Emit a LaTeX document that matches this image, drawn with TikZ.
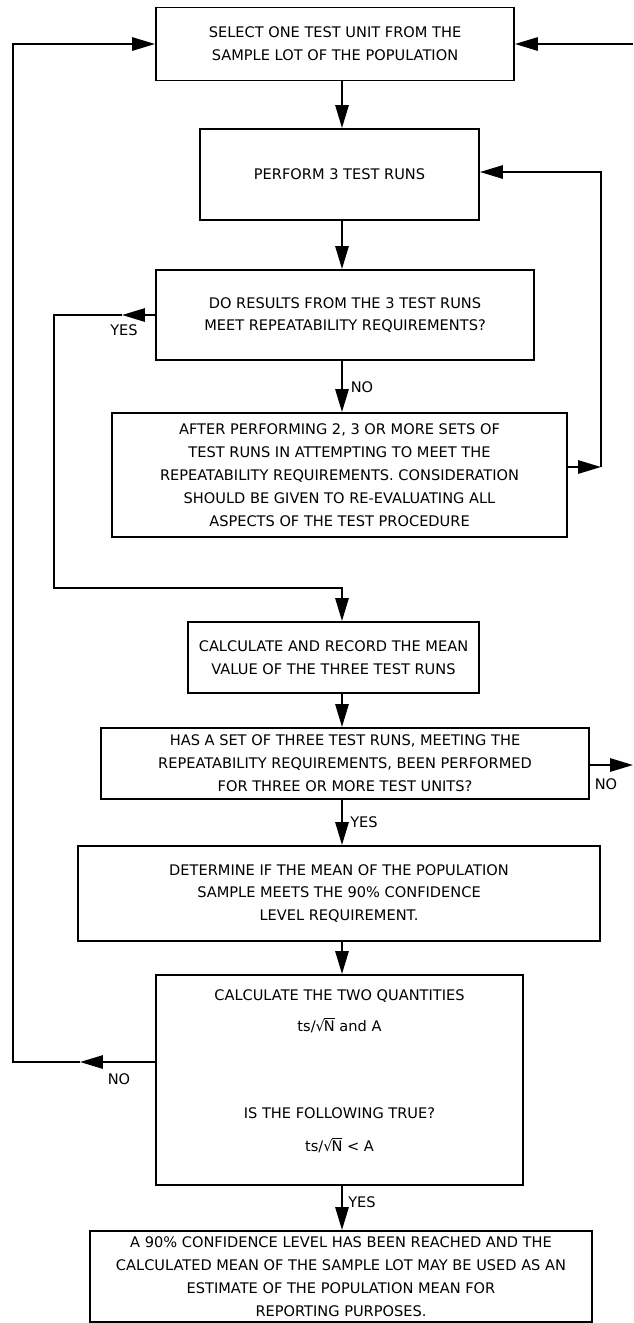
\documentclass[tikz,border=0pt]{standalone}
\usepackage{fontspec}
\setmainfont{DejaVu Sans}
\usetikzlibrary{arrows.meta}
\tikzset{
  box/.style={draw, line width=1.1pt, rectangle, inner sep=0pt, align=center,
    font=\fontsize{8.3}{13}\selectfont},
  lbl/.style={inner sep=0pt, align=center, font=\fontsize{8.3}{13}\selectfont},
  arr/.style={line width=1.2pt, -{Triangle[length=13pt,width=7.5pt]}},
}
\newcommand{\rootN}{ts/√\kern-0.6pt$\overline{\mbox{N}}$}

\begin{document}
\begin{tikzpicture}[x=0.02cm, y=-0.02cm]
  % Page frame
  \useasboundingbox (0,0) rectangle (633,1323);

  % Column of the main arrows
  \coordinate (spine) at (342,0);

  % Boxes, top to bottom
  \node[box, minimum width=7.16cm, minimum height=1.46cm] (select) at (335,44)
    {SELECT ONE TEST UNIT FROM THE\\SAMPLE LOT OF THE POPULATION};
  \node[box, minimum width=5.58cm, minimum height=1.82cm] (perform) at (339.5,174.5)
    {PERFORM 3 TEST RUNS};
  \node[box, minimum width=7.56cm, minimum height=1.80cm] (repeat) at (345,315)
    {DO RESULTS FROM THE 3 TEST RUNS\\MEET REPEATABILITY REQUIREMENTS?};
  \node[box, minimum width=9.10cm, minimum height=2.48cm] (after) at (339.5,475)
    {AFTER PERFORMING 2, 3 OR MORE SETS OF\\TEST RUNS IN ATTEMPTING TO MEET THE\\
     REPEATABILITY REQUIREMENTS. CONSIDERATION\\SHOULD BE GIVEN TO RE-EVALUATING ALL\\
     ASPECTS OF THE TEST PROCEDURE};
  \node[box, minimum width=5.82cm, minimum height=1.42cm] (mean) at (333.5,657.5)
    {CALCULATE AND RECORD THE MEAN\\VALUE OF THE THREE TEST RUNS};
  \node[box, minimum width=9.76cm, minimum height=1.42cm] (units) at (345,763.5)
    {HAS A SET OF THREE TEST RUNS, MEETING THE\\REPEATABILITY REQUIREMENTS, BEEN PERFORMED\\
     FOR THREE OR MORE TEST UNITS?};
  \node[box, minimum width=10.44cm, minimum height=1.90cm] (confid) at (339,893.5)
    {DETERMINE IF THE MEAN OF THE POPULATION\\SAMPLE MEETS THE 90\% CONFIDENCE\\
     LEVEL REQUIREMENT.};
  \node[box, minimum width=7.34cm, minimum height=4.20cm] (quant) at (339.5,1080) {};
  \node[lbl] (quanttext) at (339.5,1071)
    {CALCULATE THE TWO QUANTITIES\\[5.1pt] \rootN{} and A\\[36.3pt]
     IS THE FOLLOWING TRUE?\\[5.7pt] \rootN{} < A};
  \node[box, minimum width=10.04cm, minimum height=1.82cm] (reached) at (341,1276.5)
    {A 90\% CONFIDENCE LEVEL HAS BEEN REACHED AND THE\\CALCULATED MEAN OF THE SAMPLE LOT MAY BE USED AS AN\\
     ESTIMATE OF THE POPULATION MEAN FOR\\REPORTING PURPOSES.};

  % Straight down the middle
  \draw[arr] (select.south -| spine) -- (perform.north -| spine);
  \draw[arr] (perform.south -| spine) -- (repeat.north -| spine);
  \draw[arr] (repeat.south -| spine) -- (after.north -| spine);
  \draw[arr] (mean.south -| spine) -- (units.north -| spine);
  \draw[arr] (units.south -| spine) -- (confid.north -| spine);
  \draw[arr] (confid.south -| spine) -- (quant.north -| spine);
  \draw[arr] (quant.south -| spine) -- (reached.north -| spine);

  % YES loop on the left
  \coordinate (yestip) at (122,315);
  \coordinate (yescorner) at (54,588);
  \draw[arr] (repeat.west) -- (yestip);
  \draw[arr] (yestip) -- (yescorner |- yestip) -- (yescorner) -- (yescorner -| spine) -- (mean.north -| spine);

  % Back to PERFORM 3 TEST RUNS on the right
  \coordinate (rloop) at (601,467);
  \coordinate (rtop) at (601,172);
  \draw[arr] (after.east |- rloop) -- (rloop);
  \draw[arr] (rloop) -- (rtop) -- (rtop -| perform.east);

  % NO loop on the outer left
  \coordinate (notip) at (80,1062);
  \coordinate (nocorner) at (13,44);
  \draw[arr] (quant.west |- notip) -- (notip);
  \draw[arr] (notip) -- (nocorner |- notip) -- (nocorner) -- (select.west);

  % NO loop on the outer right (off the page)
  \coordinate (redge) at (633,765);
  \coordinate (redgetop) at (633,44);
  \draw[arr] (units.east |- redge) -- (redge);
  \draw[arr] (redgetop) -- (select.east);

  % Labels
  \node[lbl] (yes1) at (124,330) {YES};
  \node[lbl] (no1) at (362,387) {NO};
  \node[lbl] (no2) at (606,784) {NO};
  \node[lbl] (yes2) at (364,822) {YES};
  \node[lbl] (no3) at (119,1079) {NO};
  \node[lbl] (yes3) at (362,1202) {YES};
\end{tikzpicture}
\end{document}
